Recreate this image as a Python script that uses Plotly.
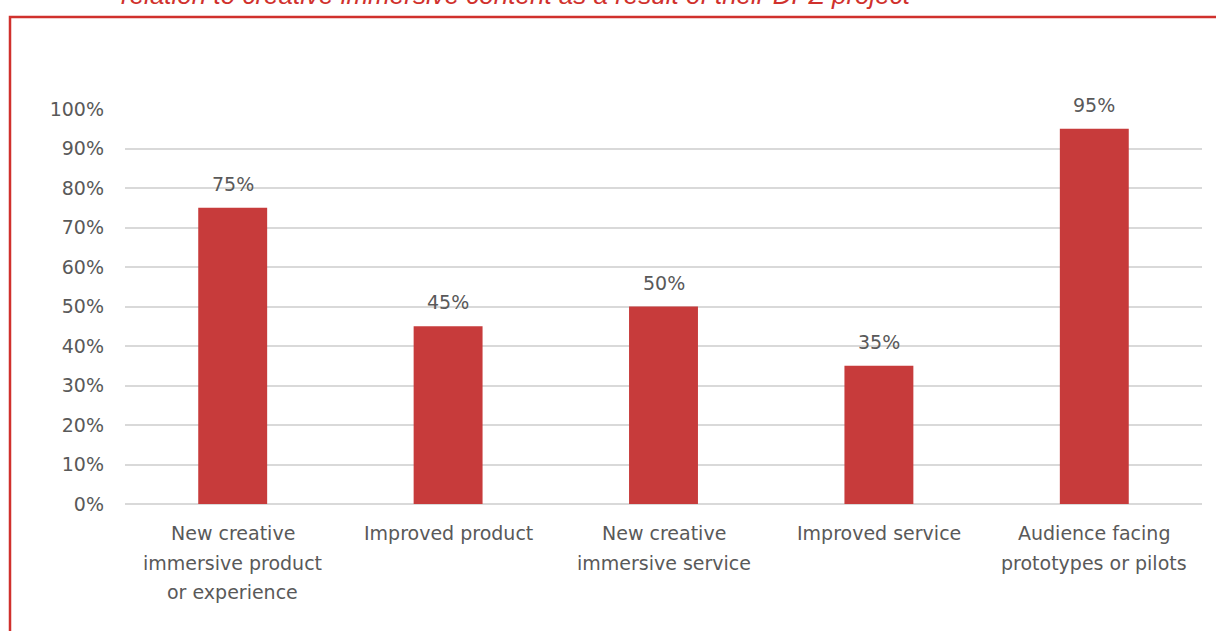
import plotly.graph_objects as go

categories = [
    "New creative<br>immersive product<br>or experience",
    "Improved product",
    "New creative<br>immersive service",
    "Improved service",
    "Audience facing<br>prototypes or pilots",
]
values = [0.75, 0.45, 0.50, 0.35, 0.95]
value_labels = ["75%", "45%", "50%", "35%", "95%"]
title_text = "relation to creative immersive content as a result of their DPZ project"

W, H = 1216, 631
ml, mr, mt, mb = 125, 14, 109, 127
pw = W - ml - mr
ph = H - mt - mb

def px_x(px):
    return (px - ml) / pw

def px_y(py):
    return (H - mb - py) / ph

font_fam = "DejaVu Sans"
grey = "#595959"

fig = go.Figure()
fig.add_trace(go.Bar(
    x=categories, y=values,
    marker=dict(color="#C73B3B", line=dict(width=0)),
    width=0.32,
    hoverinfo="skip",
))

annotations = []
for c, v, lab in zip(categories, values, value_labels):
    annotations.append(dict(
        x=c, y=v, xref="x", yref="y", text=lab, showarrow=False,
        yanchor="middle", yshift=24,
        font=dict(family=font_fam, size=19, color=grey),
    ))
    # category label lines, with the reference's wider line spacing
    for i, line in enumerate(c.split("<br>")):
        annotations.append(dict(
            x=c, y=0, xref="x", yref="y", text=line, showarrow=False,
            yanchor="middle", xanchor="center", yshift=-(29 + 29.5 * i),
            font=dict(family=font_fam, size=19, color=grey),
        ))

annotations.append(dict(
    x=px_x(516), y=px_y(-5), xref="paper", yref="paper",
    text="<i>" + title_text + "</i>", showarrow=False,
    xanchor="center", yanchor="middle",
    font=dict(family="Liberation Sans", size=26, color="#D0312D"),
))

fig.update_layout(
    width=W, height=H,
    margin=dict(l=ml, r=mr, t=mt, b=mb, pad=0),
    paper_bgcolor="white", plot_bgcolor="white",
    showlegend=False,
    annotations=annotations,
    shapes=[dict(
        type="path", xref="paper", yref="paper",
        path=f"M {px_x(10)} {px_y(640)} L {px_x(10)} {px_y(17)} L {px_x(1230)} {px_y(17)}",
        line=dict(color="#D0312D", width=2.5),
    )],
    xaxis=dict(
        showticklabels=False,
        showgrid=False, zeroline=False, showline=False,
        ticks="",
    ),
    yaxis=dict(
        range=[0, 1], tickvals=[i / 10 for i in range(11)],
        tickformat=".0%",
        tickfont=dict(family=font_fam, size=19, color=grey),
        showgrid=True, gridcolor="#D9D9D9", gridwidth=1.5,
        zeroline=True, zerolinecolor="#D9D9D9", zerolinewidth=1.5,
        showline=False, ticks="", ticklabelstandoff=20,
    ),
)

fig.write_html("out.html")
